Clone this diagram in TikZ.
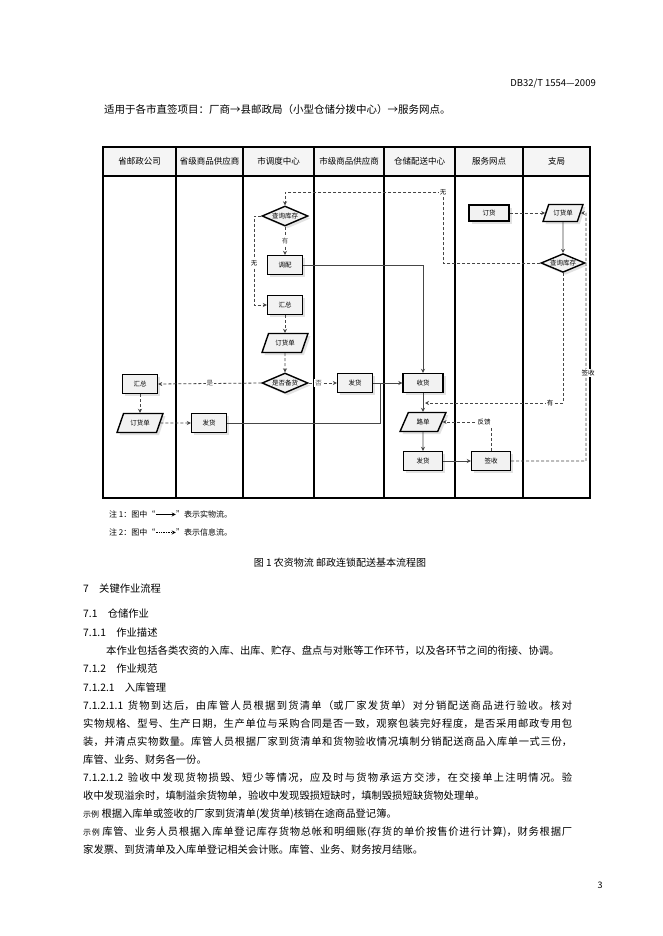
\documentclass[tikz,border=0pt]{standalone}
\usepackage{fontspec}
\setmainfont{Noto Sans CJK SC}
\usetikzlibrary{shapes.geometric,arrows.meta,shadows}
\XeTeXlinebreaklocale "zh"
\XeTeXlinebreakskip=0pt plus 1fil
\newcommand{\jline}[1]{\parbox{489pt}{\parfillskip=0pt\relax #1}}
\begin{document}
\begin{tikzpicture}[x=1pt,y=-1pt,
  every node/.style={inner sep=1pt},
  nfont/.style={font=\fontsize{6.5}{7}\selectfont},
  shad/.style={drop shadow={shadow xshift=2.5pt,shadow yshift=-2.5pt,fill=gray!45,draw=none}},
  pbox/.style={rectangle,draw,line width=1.4pt,fill=gray!10,minimum width=35,minimum height=19,nfont,shad},
  para/.style={trapezium,trapezium left angle=62,trapezium right angle=118,trapezium stretches=true,draw,line width=1.4pt,fill=gray!10,minimum width=46,minimum height=19,nfont,shad},
  dia/.style={diamond,aspect=2.3,draw,line width=1.4pt,fill=gray!10,inner sep=0.5pt,minimum width=46,minimum height=20,nfont,shad},
  hd/.style={font=\fontsize{8.5}{9}\selectfont},
  info/.style={densely dashed,gray!55!black,line width=0.8pt,-{Stealth[length=4pt,width=4pt]}},
  phys/.style={gray!55!black,line width=0.8pt,-{Stealth[length=4pt,width=4pt]}},
  physn/.style={gray!55!black,line width=0.8pt},
  lbl/.style={fill=white,nfont,inner sep=1pt},
  body/.style={anchor=west,font=\fontsize{10.3}{12}\selectfont,inner sep=0pt}
]
\useasboundingbox (0,0) rectangle (662,936);
\fill[white] (0,0) rectangle (662,936);

% top text
\node[anchor=east,font=\fontsize{9.5}{10}\selectfont] (std) at (597,84) {DB32/T 1554—2009};
\node[anchor=west,font=\fontsize{10.5}{11}\selectfont] (scope) at (103,110) {适用于各市直签项目：厂商→县邮政局（小型仓储分拨中心）→服务网点。};

% table
\fill[gray!8] (103,147) rectangle (590,176);
\draw[line width=1.4pt] (103,147) rectangle (590,498);
\draw[line width=1.4pt] (103,176) -- (590,176);
\foreach \xx in {176,243,314,384,455,523} \draw[line width=1.4pt] (\xx,147) -- (\xx,498);
\node[hd] (h1) at (139.5,161) {省邮政公司};
\node[hd] (h2) at (209.5,161) {省级商品供应商};
\node[hd] (h3) at (278.5,161) {市调度中心};
\node[hd] (h4) at (349,161) {市级商品供应商};
\node[hd] (h5) at (419.5,161) {仓储配送中心};
\node[hd] (h6) at (489,161) {服务网点};
\node[hd] (h7) at (556.5,161) {支局};

% nodes
\node[dia] (sc1) at (285,216) {查询库存};
\node[pbox] (tp) at (285,265) {调配};
\node[pbox] (hz1) at (285,305) {汇总};
\node[para] (dd1) at (285,343) {订货单};
\node[dia] (bh) at (285,383) {是否备货};
\node[pbox] (hz2) at (140,384) {汇总};
\node[para] (dd2) at (140,423) {订货单};
\node[pbox] (fh1) at (209,423) {发货};
\node[pbox] (fh2) at (355,383) {发货};
\node[pbox,minimum width=40] (sh) at (423,383) {收货};
\node[para] (ld) at (423,422) {路单};
\node[pbox,minimum width=39] (fh3) at (423,461) {发货};
\node[pbox,minimum width=39] (qs) at (491,461) {签收};
\node[pbox,minimum width=40,minimum height=16] (dh) at (489,213) {订货};
\node[para,minimum width=40,minimum height=17] (dd3) at (563,213) {订货单};
\node[dia,minimum width=44,minimum height=18] (sc2) at (563,263) {查询库存};

% coordinates
\coordinate (a1) at (443,263);
\coordinate (a2) at (443,192);
\coordinate (a3) at (285,192);
\coordinate (b1) at (254,216);
\coordinate (b2) at (254,305);
\coordinate (c1) at (563,403);
\coordinate (c2) at (425,403);
\coordinate (d1) at (586,461);
\coordinate (d2) at (586,213);
\coordinate (e1) at (491,422);
\coordinate (f1) at (380,423);
\coordinate (f2) at (380,383);
\coordinate (g1) at (423,265);

% connectors
\draw[info] (dh) -- (dd3);
\draw[phys] (dd3) -- (sc2);
\draw[info] (sc2.west) -- (a1) -- (a2) -- (a3) -- (sc1.north);
\node[lbl] (lw1) at (a2) {无};
\draw[info] (sc1) -- node[lbl] (ly1) {有} (tp);
\draw[info] (sc1.west) -- (b1) -- (b2) -- (hz1.west);
\node[lbl] (lw2) at (254,263) {无};
\draw[info] (hz1) -- (dd1);
\draw[info] (dd1) -- (bh);
\draw[info] (bh.west) -- node[lbl,pos=0.5] (ls) {是} (hz2.east);
\draw[info] (bh.east) -- node[lbl,pos=0.35] (lf) {否} (fh2.west);
\draw[info] (hz2) -- (dd2);
\draw[info] (dd2) -- (fh1);
\draw[phys] (tp.east) -- (g1) -- (sh.north);
\draw[phys] (fh2) -- (sh);
\draw[physn] (fh1.east) -- (f1) -- (f2);
\draw[phys] (sh) -- (ld);
\draw[phys] (ld) -- (fh3);
\draw[phys] (fh3) -- (qs);
\draw[info] (sc2.south) -- (c1) -- (c2);
\node[lbl] (ly2) at (550,403) {有};
\draw[info] (qs.east) -- (d1) -- (d2) -- (dd3.east);
\node[lbl] (lq) at (588,373) {签收};
\draw[info] (qs.north) -- (e1) -- (ld.east);
\node[lbl] (lfk) at (484,422) {反馈};

% notes
\node[anchor=west,font=\fontsize{8}{9}\selectfont] (n1) at (108,514) {注 1：图中“\tikz[baseline=-0.6ex]\draw[line width=0.7pt,-{Stealth[length=4pt,width=4pt]}] (0,0) -- (20pt,0);”表示实物流。};
\node[anchor=west,font=\fontsize{8}{9}\selectfont] (n2) at (108,532) {注 2：图中“\tikz[baseline=-0.6ex]\draw[line width=0.7pt,densely dotted,-{Stealth[length=4pt,width=4pt]}] (0,0) -- (20pt,0);”表示信息流。};
\node[font=\fontsize{10}{11}\selectfont] (cap) at (340,563) {图 1\ 农资物流\ 邮政连锁配送基本流程图};

% body
\node[body] (s7) at (83,589) {7\quad 关键作业流程};
\node[body] (s71) at (83,614) {7.1\quad 仓储作业};
\node[body] (s711) at (83,633) {7.1.1\quad 作业描述};
\node[body] (p1) at (106,651) {本作业包括各类农资的入库、出库、贮存、盘点与对账等工作环节，以及各环节之间的衔接、协调。};
\node[body] (s712) at (83,669) {7.1.2\quad 作业规范};
\node[body] (s7121) at (83,688) {7.1.2.1\quad 入库管理};
\node[body] (l1) at (83,706) {\jline{7.1.2.1.1\ \ 货物到达后，由库管人员根据到货清单（或厂家发货单）对分销配送商品进行验收。核对}};
\node[body] (l2) at (83,724) {\jline{实物规格、型号、生产日期，生产单位与采购合同是否一致，观察包装完好程度，是否采用邮政专用包}};
\node[body] (l3) at (83,742) {\jline{装，并清点实物数量。库管人员根据厂家到货清单和货物验收情况填制分销配送商品入库单一式三份，}};
\node[body] (l4) at (83,760) {库管、业务、财务各一份。};
\node[body] (l5) at (83,778) {\jline{7.1.2.1.2\ \ 验收中发现货物损毁、短少等情况，应及时与货物承运方交涉，在交接单上注明情况。验}};
\node[body] (l6) at (83,796) {收中发现溢余时，填制溢余货物单，验收中发现毁损短缺时，填制毁损短缺货物处理单。};
\node[body] (l7) at (83,814) {{\fontsize{8}{9}\selectfont 示例}\ 根据入库单或签收的厂家到货清单(发货单)核销在途商品登记簿。};
\node[body] (l8) at (83,832) {\jline{{\fontsize{8}{9}\selectfont 示例}\ 库管、业务人员根据入库单登记库存货物总帐和明细账(存货的单价按售价进行计算)，财务根据厂}};
\node[body] (l9) at (83,850) {家发票、到货清单及入库单登记相关会计账。库管、业务、财务按月结账。};
\node[font=\fontsize{9}{10}\selectfont] (pg) at (600,885) {3};
\end{tikzpicture}
\end{document}
